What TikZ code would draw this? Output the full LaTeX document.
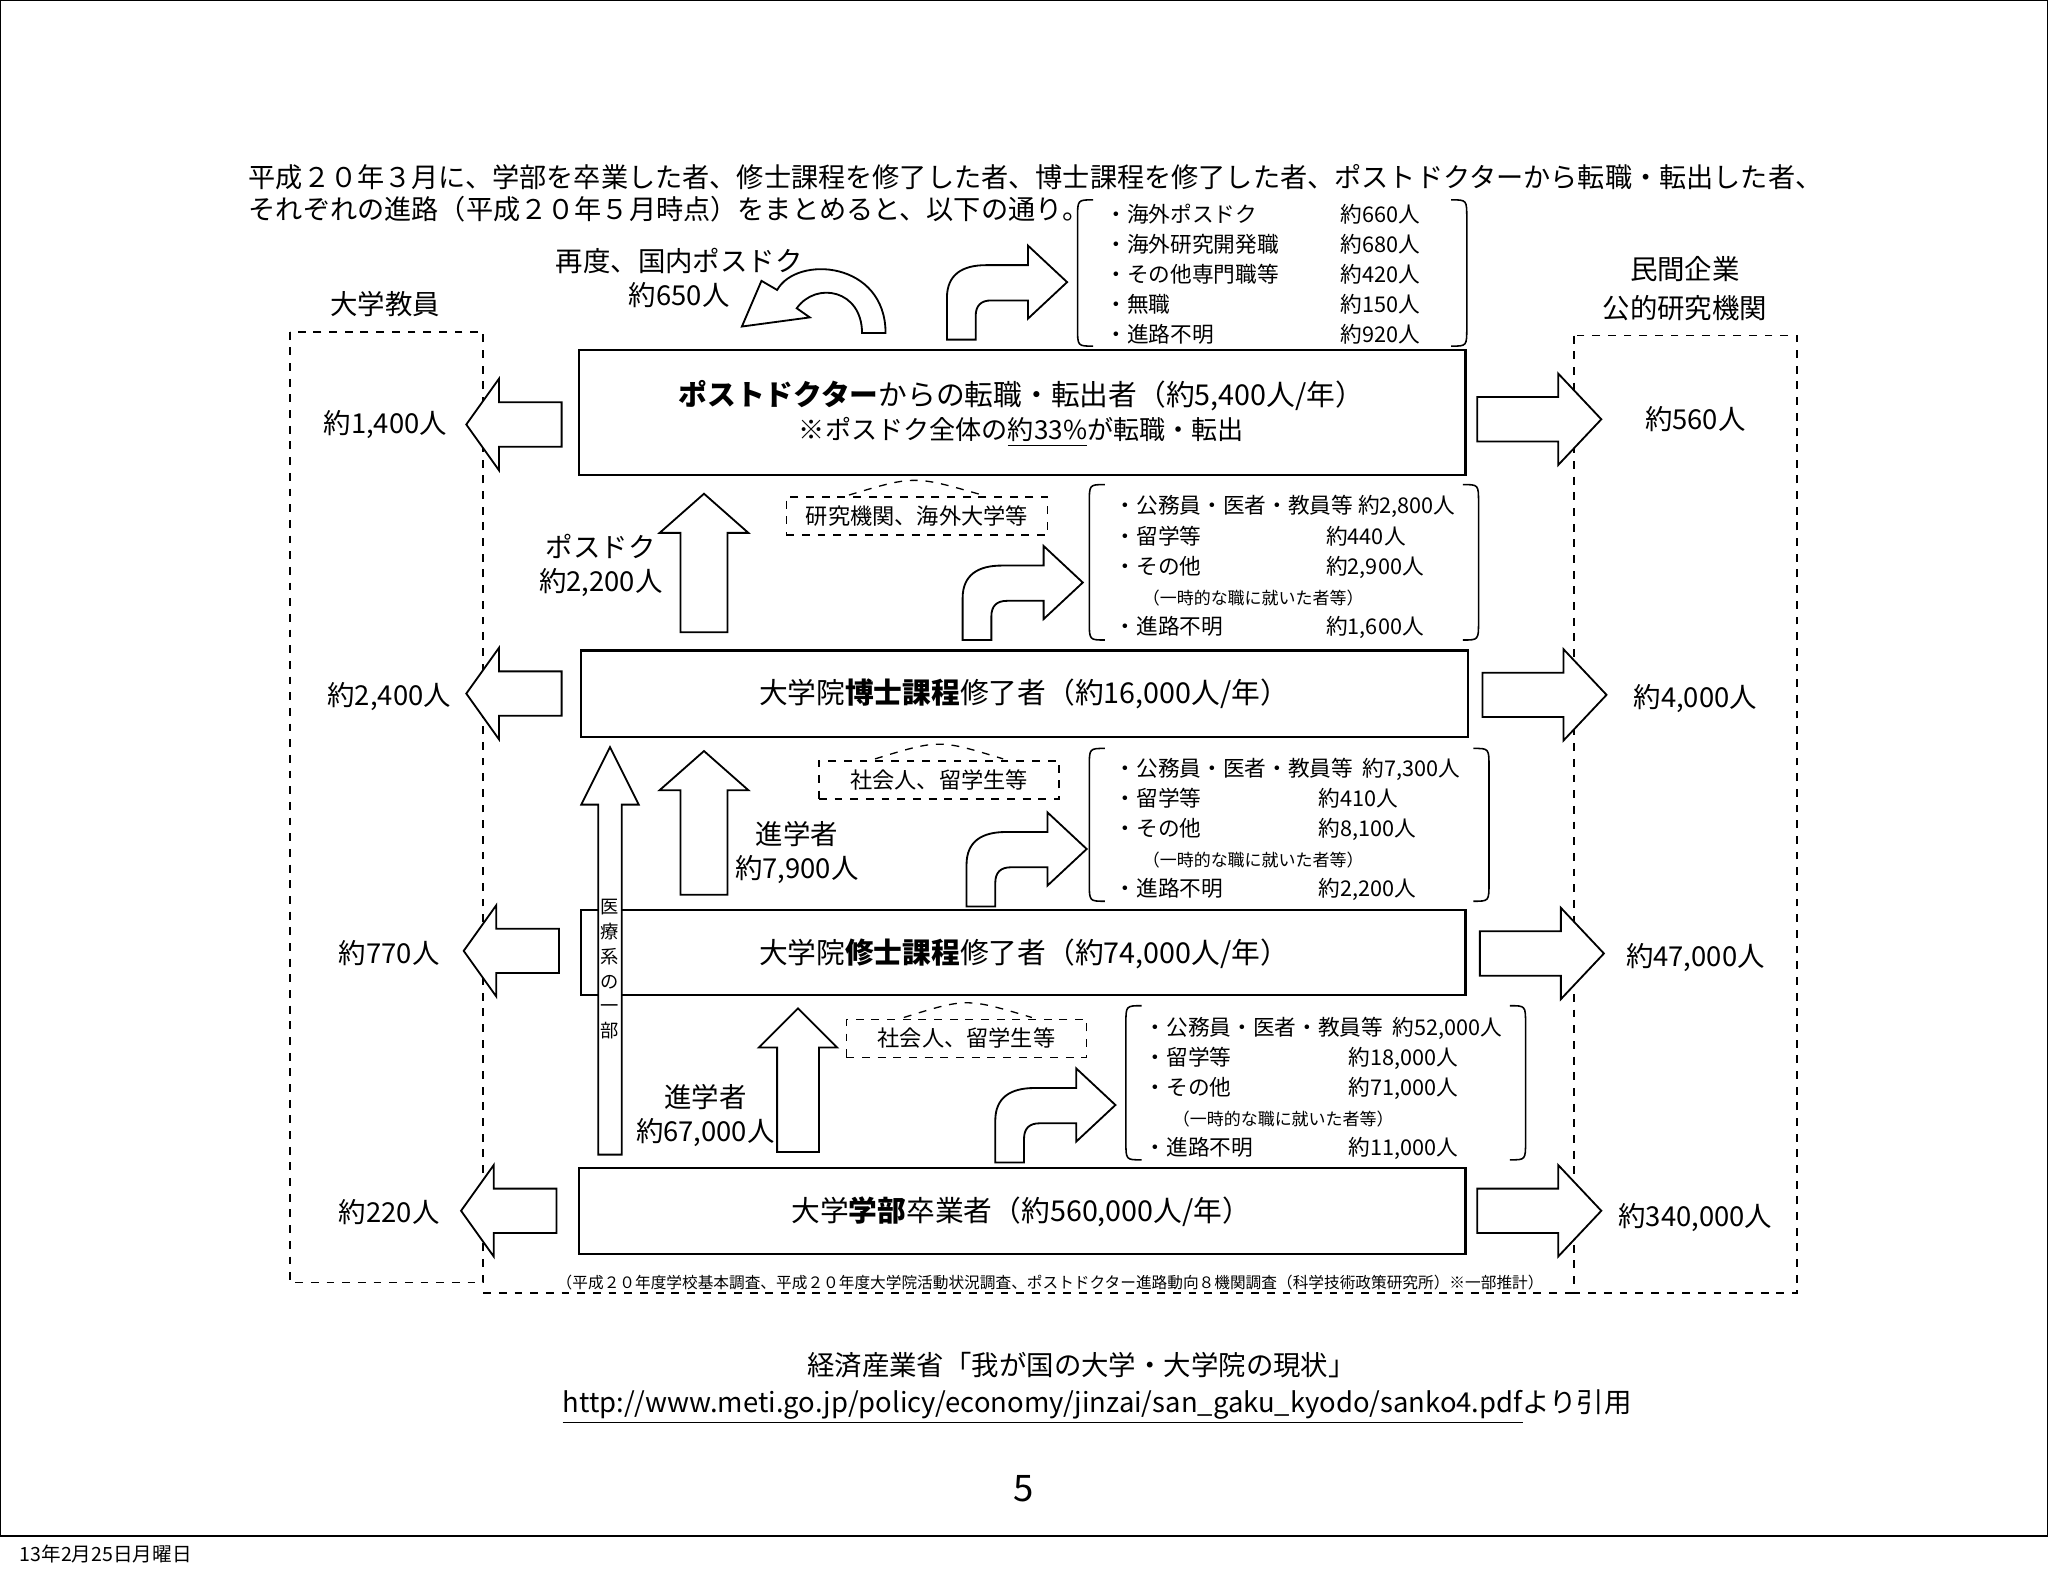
\documentclass[tikz,border=0pt]{standalone}
\usepackage{fontspec}
\setmainfont{Noto Sans CJK JP}
\usetikzlibrary{calc}
\tikzset{
 blk/.style={draw,line width=0.7pt,fill=white},
 mainbox/.style={draw,line width=0.8pt},
 dbox/.style={draw,dashed,line width=0.6pt},
 brk/.style={line width=0.6pt},
 big/.style={font=\fontsize{11}{13}\selectfont},
 lbl/.style={font=\fontsize{10.5}{13}\selectfont},
 lst/.style={font=\fontsize{8.3}{11.5}\selectfont,anchor=north west,inner sep=0pt},
}
\newcommand{\larr}[2]{\draw[blk] (#1,#2) -- (#1+25,#2-35) -- (#1+25,#2-17) -- (#1+73,#2-17) -- (#1+73,#2+17) -- (#1+25,#2+17) -- (#1+25,#2+35) -- cycle;}
\newcommand{\rarr}[2]{\draw[blk] (#1,#2-17) -- (#1+62,#2-17) -- (#1+62,#2-35) -- (#1+95,#2) -- (#1+62,#2+35) -- (#1+62,#2+17) -- (#1,#2+17) -- cycle;}
\newcommand{\uarr}[5]{\draw[blk] (#1,#2) -- (#1+#4,#2+30) -- (#1+#5,#2+30) -- (#1+#5,#3) -- (#1-#5,#3) -- (#1-#5,#2+30) -- (#1-#4,#2+30) -- cycle;}
\newcommand{\bentarr}[2]{\draw[blk] (#1,#2+72) -- (#1,#2+40) .. controls (#1,#2+22) and (#1+12,#2+15) .. (#1+30,#2+15) -- (#1+62,#2+15) -- (#1+62,#2) -- (#1+92,#2+28) -- (#1+62,#2+56) -- (#1+62,#2+42) -- (#1+34,#2+42) .. controls (#1+26,#2+42) and (#1+22,#2+46) .. (#1+22,#2+54) -- (#1+22,#2+72) -- cycle;}
\newcommand{\listbrack}[4]{\draw[brk] (#1+12,#2) .. controls (#1,#2) .. (#1,#2+14) -- (#1,#4-14) .. controls (#1,#4) .. (#1+12,#4);
 \draw[brk] (#3-12,#2) .. controls (#3,#2) .. (#3,#2+14) -- (#3,#4-14) .. controls (#3,#4) .. (#3-12,#4);}
\begin{document}
\begin{tikzpicture}[x=0.5pt,y=-0.5pt]
\useasboundingbox (0,0) rectangle (1568,1206);
\draw[line width=0.6pt] (0.5,0.5) rectangle (1567.5,1176);
\node[anchor=west,font=\fontsize{7.5}{9}\selectfont] (date) at (8,1190) {13年2月25日月曜日};

\node[anchor=west,font=\fontsize{10.4}{12}\selectfont,inner sep=0pt] (p1) at (190,136) {平成２０年３月に、学部を卒業した者、修士課程を修了した者、博士課程を修了した者、ポストドクターから転職・転出した者、};
\node[anchor=west,font=\fontsize{10.4}{12}\selectfont,inner sep=0pt] (p2) at (190,160) {それぞれの進路（平成２０年５月時点）をまとめると、以下の通り。};

% side boxes
\draw[dbox] (222,254) rectangle (370,982);
\draw[dbox] (1205,257) rectangle (1376,990);
\draw[dbox] (370,990) -- (1205,990);
\node[lbl] (kyoin) at (295,233) {大学教員};
\node[lbl] (minkan) at (1290,206) {民間企業};
\node[lbl] (koteki) at (1290,236) {公的研究機関};
\node[font=\fontsize{6}{7}\selectfont,inner sep=0pt] (src) at (804,982) {（平成２０年度学校基本調査、平成２０年度大学院活動状況調査、ポストドクター進路動向８機関調査（科学技術政策研究所）※一部推計）};

% main boxes
\draw[mainbox] (443,268) rectangle (1122,364);
\node[big] (pd1) at (782,303) {\textbf{ポストドクター}からの転職・転出者（約5,400人/年）};
\node[font=\fontsize{10}{12}\selectfont] (pd2) at (782,331) {※ポスドク全体の\underline{約33\%}が転職・転出};
\draw[mainbox] (445,498) rectangle (1124,564);
\node[big] (dr) at (784,531) {大学院\textbf{博士課程}修了者（約16,000人/年）};
\draw[mainbox] (445,697) rectangle (1122,762);
\node[big] (ms) at (784,730) {大学院\textbf{修士課程}修了者（約74,000人/年）};
\draw[mainbox] (443,894) rectangle (1122,960);
\node[big] (ba) at (782,928) {大学\textbf{学部}卒業者（約560,000人/年）};

% left/right arrows
\larr{357}{325} \larr{357}{531} \larr{355}{728} \larr{353}{927}
\node[lbl] (l1) at (295,325) {約1,400人};
\node[lbl] (l2) at (298,533) {約2,400人};
\node[lbl] (l3) at (298,730) {約770人};
\node[lbl] (l4) at (298,928) {約220人};
\rarr{1131}{321} \rarr{1135}{532} \rarr{1133}{730} \rarr{1131}{927}
\node[lbl] (r1) at (1298,321) {約560人};
\node[lbl] (r2) at (1298,535) {約4,000人};
\node[lbl] (r3) at (1298,733) {約47,000人};
\node[lbl] (r4) at (1298,932) {約340,000人};

% up arrows
\uarr{539}{378}{484}{34}{18}
\node[lbl,align=center] (u1) at (460,433) {ポスドク\\約2,200人};
\uarr{539}{575}{685}{34}{18}
\node[lbl,align=center] (u2) at (610,653) {進学者\\約7,900人};
\uarr{611}{772}{882}{30}{16}
\node[lbl,align=center] (u3) at (540,854) {進学者\\約67,000人};
\draw[blk] (467,572) -- (489,616) -- (476,616) -- (476,884) -- (458,884) -- (458,616) -- (445,616) -- cycle;
\node[font=\fontsize{7}{9.5}\selectfont,align=center,inner sep=0pt] (iryo) at (467,742) {医\\療\\系\\の\\一\\部};

% dashed small boxes
\node[dbox,font=\fontsize{8.5}{10}\selectfont,minimum width=100pt,minimum height=14.5pt] (sb1) at (702,395) {研究機関、海外大学等};
\draw[dashed,line width=0.5pt] (650,379) .. controls (700,364) .. (752,379);
\node[dbox,font=\fontsize{8.5}{10}\selectfont,minimum width=92pt,minimum height=14.5pt] (sb2) at (719,597) {社会人、留学生等};
\draw[dashed,line width=0.5pt] (670,581) .. controls (719,566) .. (768,581);
\node[dbox,font=\fontsize{8.5}{10}\selectfont,minimum width=92pt,minimum height=14.5pt] (sb3) at (740,795) {社会人、留学生等};
\draw[dashed,line width=0.5pt] (692,779) .. controls (740,764) .. (790,779);

% bent arrows
\bentarr{725}{188}
\bentarr{737}{418}
\bentarr{740}{622}
\bentarr{762}{818}

% curved arrow
\draw[blk] (678,255) .. controls (678,200) and (610,195) .. (595,222) -- (583,215) -- (568,250) -- (620,243) -- (610,236) .. controls (625,215) and (660,222) .. (660,255) -- cycle;
\node[lbl,align=center] (again) at (520,213) {再度、国内ポスドク\\約650人};

% lists
\listbrack{825}{153}{1123}{265}
\node[lst] (list1) at (846,154) {\begin{tabular}{@{}p{90pt}@{}l@{}}
・海外ポスドク & 約660人\\
・海外研究開発職 & 約680人\\
・その他専門職等 & 約420人\\
・無職 & 約150人\\
・進路不明 & 約920人
\end{tabular}};
\listbrack{834}{371}{1132}{490}
\node[lst] (list2) at (853,377) {\begin{tabular}{@{}p{81pt}@{}l@{}}
\multicolumn{2}{@{}l@{}}{・公務員・医者・教員等\ 約2,800人}\\
・留学等 & 約440人\\
・その他 & 約2,900人\\
\multicolumn{2}{@{}l@{}}{\hspace{1.3em}\fontsize{6.5}{8}\selectfont （一時的な職に就いた者等）}\\
・進路不明 & 約1,600人
\end{tabular}};
\listbrack{834}{573}{1140}{690}
\node[lst] (list3) at (853,578) {\begin{tabular}{@{}p{78pt}@{}l@{}}
\multicolumn{2}{@{}l@{}}{・公務員・医者・教員等\ \ 約7,300人}\\
・留学等 & 約410人\\
・その他 & 約8,100人\\
\multicolumn{2}{@{}l@{}}{\hspace{1.3em}\fontsize{6.5}{8}\selectfont （一時的な職に就いた者等）}\\
・進路不明 & 約2,200人
\end{tabular}};
\listbrack{862}{770}{1168}{888}
\node[lst] (list4) at (876,776) {\begin{tabular}{@{}p{78pt}@{}l@{}}
\multicolumn{2}{@{}l@{}}{・公務員・医者・教員等\ \ 約52,000人}\\
・留学等 & 約18,000人\\
・その他 & 約71,000人\\
\multicolumn{2}{@{}l@{}}{\hspace{1.3em}\fontsize{6.5}{8}\selectfont （一時的な職に就いた者等）}\\
・進路不明 & 約11,000人
\end{tabular}};

% footer
\node[font=\fontsize{10.5}{13}\selectfont] (meti) at (828,1045) {経済産業省「我が国の大学・大学院の現状」};
\node[font=\fontsize{10.5}{13}\selectfont] (url) at (840,1077) {\underline{http://www.meti.go.jp/policy/economy/jinzai/san\_gaku\_kyodo/sanko4.pdf}より引用};
\node[font=\fontsize{14}{16}\selectfont] (page) at (784,1140) {5};
\end{tikzpicture}
\end{document}
